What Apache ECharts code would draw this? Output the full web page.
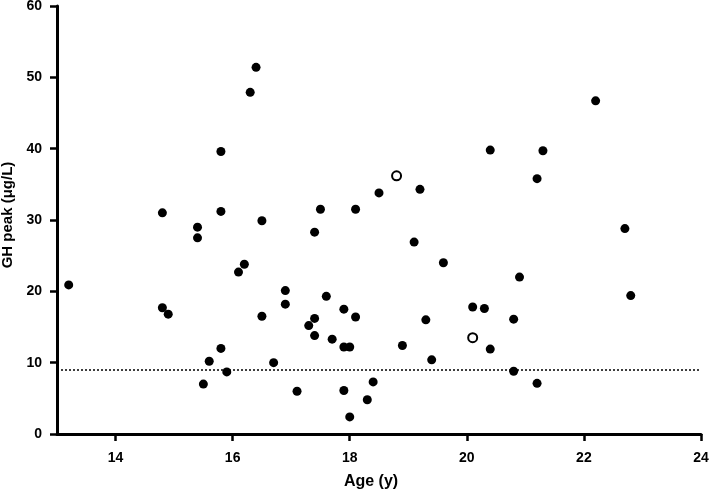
<!DOCTYPE html>
<html lang="en">
<head>
    <meta charset="UTF-8">
    <title>GH peak vs Age</title>
    <script src="https://cdn.jsdelivr.net/npm/echarts@6/dist/echarts.min.js"></script>
    <style>
        html, body { margin: 0; padding: 0; background: #fff; }
        #main { width: 709px; height: 491px; }
    </style>
</head>
<body>
    <div id="main"></div>
    <script>
        // age (y), GH peak (ug/L) - filled circles
        var ages = [13.2, 14.8, 14.8, 14.9, 15.4, 15.4, 15.5, 15.6, 15.8, 15.8,
            15.8, 15.9, 16.1, 16.2, 16.3, 16.4, 16.5, 16.5, 16.7, 16.9,
            16.9, 17.1, 17.3, 17.4, 17.4, 17.4, 17.5, 17.6, 17.7, 17.9,
            17.9, 17.9, 18.0, 18.0, 18.1, 18.1, 18.3, 18.4, 18.5, 18.9,
            19.1, 19.2, 19.3, 19.4, 19.6, 20.1, 20.3, 20.4, 20.4, 20.8,
            20.8, 20.9, 21.2, 21.2, 21.3, 22.2, 22.7, 22.8];
        var ghPeak = [20.9, 31.0, 17.7, 16.8, 29.0, 27.5, 7.0, 10.2, 39.6, 31.2,
            12.0, 8.7, 22.7, 23.8, 47.9, 51.4, 29.9, 16.5, 10.0, 20.1,
            18.2, 6.0, 15.2, 28.3, 16.2, 13.8, 31.5, 19.3, 13.3, 17.5,
            12.2, 6.1, 12.2, 2.4, 31.5, 16.4, 4.8, 7.3, 33.8, 12.4,
            26.9, 34.3, 16.0, 10.4, 24.0, 17.8, 17.6, 39.8, 11.9, 16.1,
            8.8, 22.0, 35.8, 7.1, 39.7, 46.7, 28.8, 19.4];
        // open circles
        var openAges = [18.8, 20.1];
        var openPeak = [36.2, 13.5];

        var cutoff = 9;
        var xTicks = [14, 16, 18, 20, 22, 24];

        function pairs(xs, ys) {
            return xs.map(function (x, i) { return [x, ys[i]]; });
        }

        var myChart = echarts.init(document.getElementById('main'));
        var font = 'Liberation Sans, Arial, sans-serif';

        var option = {
            animation: false,
            grid: { left: 57, right: 8, top: 6, bottom: 57, outerBoundsMode: 'none', containLabel: false },
            xAxis: {
                type: 'value',
                min: 13,
                max: 24,
                name: 'Age (y)',
                nameLocation: 'middle',
                nameGap: 40,
                nameTextStyle: {
                    color: '#000', fontWeight: 'bold', fontSize: 16,
                    fontFamily: font, padding: [0, 16, 0, 0]
                },
                splitLine: { show: false },
                axisLine: { lineStyle: { color: '#000', width: 3 } },
                axisTick: {
                    customValues: xTicks, length: 7,
                    lineStyle: { color: '#000', width: 2.5 }
                },
                axisLabel: {
                    customValues: xTicks, margin: 17,
                    color: '#000', fontWeight: 'bold', fontSize: 14, fontFamily: font
                }
            },
            yAxis: {
                type: 'value',
                min: 0,
                max: 60,
                interval: 10,
                name: 'GH peak (\u03bcg/L)',
                nameLocation: 'middle',
                nameGap: 38,
                nameTextStyle: {
                    color: '#000', fontWeight: 'bold', fontSize: 15,
                    fontFamily: font, padding: [0, 0, 0, 10]
                },
                splitLine: { show: false },
                axisLine: { show: true, lineStyle: { color: '#000', width: 3 } },
                axisTick: { show: true, length: 7, lineStyle: { color: '#000', width: 2.5 } },
                axisLabel: {
                    margin: 15,
                    color: '#000', fontWeight: 'bold', fontSize: 14, fontFamily: font
                }
            },
            series: [{
                type: 'scatter',
                data: pairs(ages, ghPeak),
                symbolSize: 9,
                itemStyle: { color: '#000', opacity: 1 },
                markLine: {
                    silent: true,
                    symbol: 'none',
                    label: { show: false },
                    lineStyle: { color: '#000', type: [2, 2], width: 1.5, opacity: 1 },
                    data: [{ yAxis: cutoff }]
                }
            }, {
                type: 'scatter',
                data: pairs(openAges, openPeak),
                symbolSize: 9,
                itemStyle: { color: '#fff', borderColor: '#000', borderWidth: 2, opacity: 1 }
            }]
        };
        myChart.setOption(option);
    </script>
</body>
</html>
